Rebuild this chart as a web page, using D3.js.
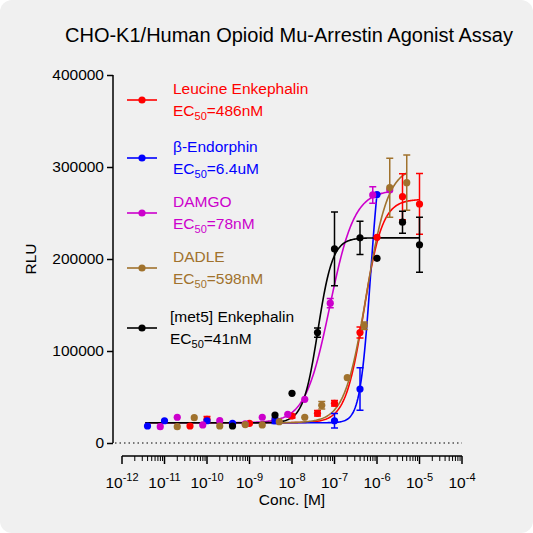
<!DOCTYPE html>
<html><head><meta charset="utf-8">
<script src="https://cdn.jsdelivr.net/npm/d3@7"></script>
<style>body{margin:0;background:#fff}text{font-family:Arial,"Liberation Sans",sans-serif}</style>
</head><body><svg id="c" width="533" height="533"></svg>
<script>
// log10 concentrations and RLU values per compound
const leuX = [-10.4,-10.0,-9.4,-9.0,-8.4,-8.0,-7.4,-7.0,-6.4,-6.0,-5.4,-5.0]
const leuY = [18500,25700,20300,21400,25000,29300,32300,43200,120000,223600,267700,259800]
const leuE = [0,3000,0,0,0,2000,3000,3000,6000,0,25000,33000]
const endX = [-11.4,-11.0,-10.0,-9.4,-8.4,-7.0,-6.4,-6.0]
const endY = [18500,24200,24200,21400,24200,24200,58700,270000]
const endE = [0,0,0,0,3000,8000,23000,0]
const damX = [-11.1,-10.7,-10.1,-9.7,-9.1,-8.7,-8.1,-7.7,-7.1,-6.1,-5.7]
const damY = [17700,28000,19600,24300,20700,28000,31200,47500,152000,269600,275000]
const damE = [0,0,0,0,0,0,0,0,5000,9000,0]
const dadX = [-10.7,-10.3,-9.7,-9.1,-8.7,-8.3,-7.7,-7.3,-6.7,-6.3,-5.7,-5.3]
const dadY = [17700,27500,18500,20000,19600,23200,28000,41000,71000,127500,277500,283000]
const dadE = [0,0,0,0,0,0,0,4000,0,4000,32000,30000]
const metX = [-9.4,-8.4,-8.0,-7.4,-7.0,-6.4,-6.0,-5.4,-5.0]
const metY = [18500,30400,54000,120000,211000,223000,200700,240000,215500]
const metE = [0,0,0,5000,40000,18000,0,12000,30000]
// fitted curve parameters: bottom, top, logEC50, hill, x range
const names = ['Leucine Enkephalin','β-Endorphin','DAMGO','DADLE','[met5] Enkephalin']
const ecLabels = ['=486nM','=6.4uM','=78nM','=598nM','=41nM']
const colors = ['#ff0000','#0000ff','#cc00cc','#a0722d','#000000']
const fitBottom = [22000,22000,22000,22000,22000]
const fitTop = [265000,345000,275000,300000,223000]
const fitLogEC = [-6.31,-6.15,-7.11,-6.25,-7.39]
const fitHill = [2,3.5,1.5,1.7,2.5]
const fitEnd = [-5.0,-6.0,-5.7,-5.3,-5.0]

const series = [[leuX,leuY,leuE],[endX,endY,endE],[damX,damY,damE],[dadX,dadY,dadE],[metX,metY,metE]]

const svg = d3.select('#c')
svg.append('rect').attr('width',533).attr('height',533).attr('rx',12).attr('fill','#f0f0f0')

const x = d3.scaleLinear().domain([-12,-4]).range([122,462])
const y = d3.scaleLinear().domain([0,400000]).range([443,75])

svg.append('text').attr('x',289).attr('y',42).attr('text-anchor','middle').attr('font-size',20).text('CHO-K1/Human Opioid Mu-Arrestin Agonist Assay')

// y axis
const ya = svg.append('g').attr('transform','translate(113,0)')
  .call(d3.axisLeft(y).tickValues([0,100000,200000,300000,400000]).tickFormat(d3.format('d')).tickSize(6))
ya.select('.domain').attr('stroke-width',1.5).attr('d','M0,75V443')
ya.selectAll('text').attr('font-size',15.5).attr('fill','#000')
ya.selectAll('line').attr('stroke-width',1.5)
svg.append('text').attr('transform','translate(36,259) rotate(-90)').attr('text-anchor','middle').attr('font-size',15.5).text('RLU')

// dotted baseline
svg.append('line').attr('x1',115).attr('x2',462).attr('y1',y(0)).attr('y2',y(0)).attr('stroke','#000').attr('stroke-dasharray','1.5,3')

// x axis with log minor ticks
const xa = svg.append('g').attr('transform','translate(0,456)')
xa.append('line').attr('x1',x(-12)).attr('x2',x(-4)).attr('stroke','#000').attr('stroke-width',1.5)
const major = d3.range(-12,-3)
const minor = []
major.slice(0,-1).forEach(m => { for (let k=2;k<10;k++) minor.push(m+Math.log10(k)) })
xa.selectAll('.mj').data(major).join('line').attr('x1',d=>x(d)).attr('x2',d=>x(d)).attr('y1',0).attr('y2',8).attr('stroke','#000').attr('stroke-width',1.5)
xa.selectAll('.mn').data(minor).join('line').attr('x1',d=>x(d)).attr('x2',d=>x(d)).attr('y1',0).attr('y2',5).attr('stroke','#000')
const xl = xa.selectAll('.lb').data(major).join('text').attr('x',d=>x(d)).attr('y',32).attr('text-anchor','middle').attr('font-size',15.5)
xl.append('tspan').text('10')
xl.append('tspan').attr('dy',-7).attr('font-size',11).text(d=>d)
svg.append('text').attr('x',x(-8)).attr('y',505).attr('text-anchor','middle').attr('font-size',15.5).text('Conc. [M]')

// curves
series.forEach((s,i) => {
  const f = lx => fitBottom[i] + (fitTop[i]-fitBottom[i])/(1+Math.pow(10,fitHill[i]*(fitLogEC[i]-lx)))
  const pts = d3.range(-11.45, fitEnd[i]+0.001, 0.02).map(lx => [lx,f(lx)])
  svg.append('path').attr('d',d3.line().x(d=>x(d[0])).y(d=>y(Math.min(d[1],400000)))(pts))
    .attr('fill','none').attr('stroke',colors[i]).attr('stroke-width',1.6)
})
// points with error bars
series.forEach((s,i) => {
  const g = svg.append('g')
  const idx = d3.range(s[0].length).filter(j => s[2][j] > 0)
  g.selectAll('.eb').data(idx).join('path')
    .attr('d', j => { const cx=x(s[0][j]), t=y(s[1][j]+s[2][j]), b=y(s[1][j]-s[2][j]); return `M${cx},${t}V${b}M${cx-3.5},${t}H${cx+3.5}M${cx-3.5},${b}H${cx+3.5}` })
    .attr('stroke',colors[i]).attr('stroke-width',1.5).attr('fill','none')
  g.selectAll('circle').data(s[0]).join('circle').attr('cx',d=>x(d)).attr('cy',(d,j)=>y(s[1][j])).attr('r',3.6).attr('fill',colors[i])
})

// legend
const legY = [100,158,213,268,328]
names.forEach((n,i) => {
  const g = svg.append('g').attr('transform',`translate(0,${legY[i]})`)
  g.append('line').attr('x1',127).attr('x2',157).attr('stroke',colors[i]).attr('stroke-width',1.6)
  g.append('circle').attr('cx',142).attr('r',3.6).attr('fill',colors[i])
  const tx = i===4 ? 170 : 173
  g.append('text').attr('x',tx).attr('y',-6).attr('font-size',15.5).attr('fill',colors[i]).text(n)
  const t2 = g.append('text').attr('x',tx).attr('y',16).attr('font-size',15.5).attr('fill',colors[i])
  t2.append('tspan').text('EC')
  t2.append('tspan').attr('dy',4).attr('font-size',11).text('50')
  t2.append('tspan').attr('dy',-4).text(ecLabels[i])
})
</script></body></html>
